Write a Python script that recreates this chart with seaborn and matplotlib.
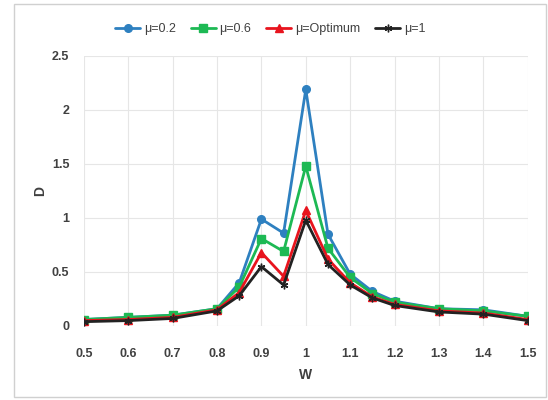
import pandas as pd
import matplotlib.pyplot as plt
import seaborn as sns
from matplotlib.patches import Rectangle

sns.set_style('whitegrid')
plt.rcParams['font.family'] = ['Liberation Sans', 'DejaVu Sans']

w = [0.5, 0.6, 0.7, 0.8, 0.85, 0.9, 0.95, 1.0, 1.05, 1.1, 1.15, 1.2, 1.3, 1.4, 1.5]
d_02 = [0.06, 0.08, 0.10, 0.16, 0.40, 0.99, 0.86, 2.19, 0.85, 0.48, 0.32, 0.23, 0.16, 0.15, 0.09]
d_06 = [0.06, 0.08, 0.10, 0.16, 0.36, 0.81, 0.69, 1.48, 0.72, 0.45, 0.30, 0.22, 0.16, 0.14, 0.09]
d_opt = [0.05, 0.06, 0.08, 0.15, 0.31, 0.68, 0.46, 1.07, 0.62, 0.40, 0.27, 0.20, 0.14, 0.12, 0.06]
d_1 = [0.04, 0.05, 0.07, 0.14, 0.28, 0.55, 0.38, 0.98, 0.57, 0.38, 0.26, 0.19, 0.13, 0.11, 0.05]
labels = ['μ=0.2', 'μ=0.6', 'μ=Optimum', 'μ=1']

colors = ['#2E80C0', '#1DB954', '#E8141E', '#222222']
markers = ['o', 's', '^', (6, 2, 0)]

fig = plt.figure(figsize=(5.48, 4), dpi=100)
ax = fig.add_axes([0.153, 0.185, 0.81, 0.675])
for vals, lab, c, m in zip([d_02, d_06, d_opt, d_1], labels, colors, markers):
    df = pd.DataFrame({'W': w, 'D': vals})
    sns.lineplot(data=df, x='W', y='D', color=c, marker=m, markersize=5.5,
                 linewidth=2, markeredgewidth=1, markeredgecolor=c,
                 label=lab, ax=ax)

ax.set_xlim(0.5, 1.5)
ax.set_ylim(0, 2.5)
ax.set_xticks([0.5, 0.6, 0.7, 0.8, 0.9, 1.0, 1.1, 1.2, 1.3, 1.4, 1.5])
ax.set_xticklabels(['0.5', '0.6', '0.7', '0.8', '0.9', '1', '1.1', '1.2', '1.3', '1.4', '1.5'])
ax.set_yticks([0, 0.5, 1, 1.5, 2, 2.5])
ax.set_yticklabels(['0', '0.5', '1', '1.5', '2', '2.5'])
ax.tick_params(labelsize=9, colors='#404040')
ax.tick_params(axis='x', pad=12)
ax.tick_params(axis='y', pad=7)
for t in ax.get_xticklabels() + ax.get_yticklabels():
    t.set_fontweight('bold')
ax.grid(color='#e6e6e6', linewidth=0.8)
for s in ax.spines.values():
    s.set_visible(False)
ax.set_xlabel('W', fontsize=10, fontweight='bold', color='#404040', labelpad=6)
ax.set_ylabel('D', fontsize=10, fontweight='bold', color='#404040', labelpad=3)

ax.legend(loc='center', bbox_to_anchor=(0.42, 1.10), ncol=4, frameon=False,
          fontsize=9, handlelength=2, columnspacing=1.2, handletextpad=0.3,
          labelcolor='#404040')

fig.patches.append(Rectangle((0.026, 0.008), 0.97, 0.982, transform=fig.transFigure,
                             fill=False, edgecolor='#d0d0d0', linewidth=1))
fig.savefig('out.png', dpi=100, facecolor='white')
